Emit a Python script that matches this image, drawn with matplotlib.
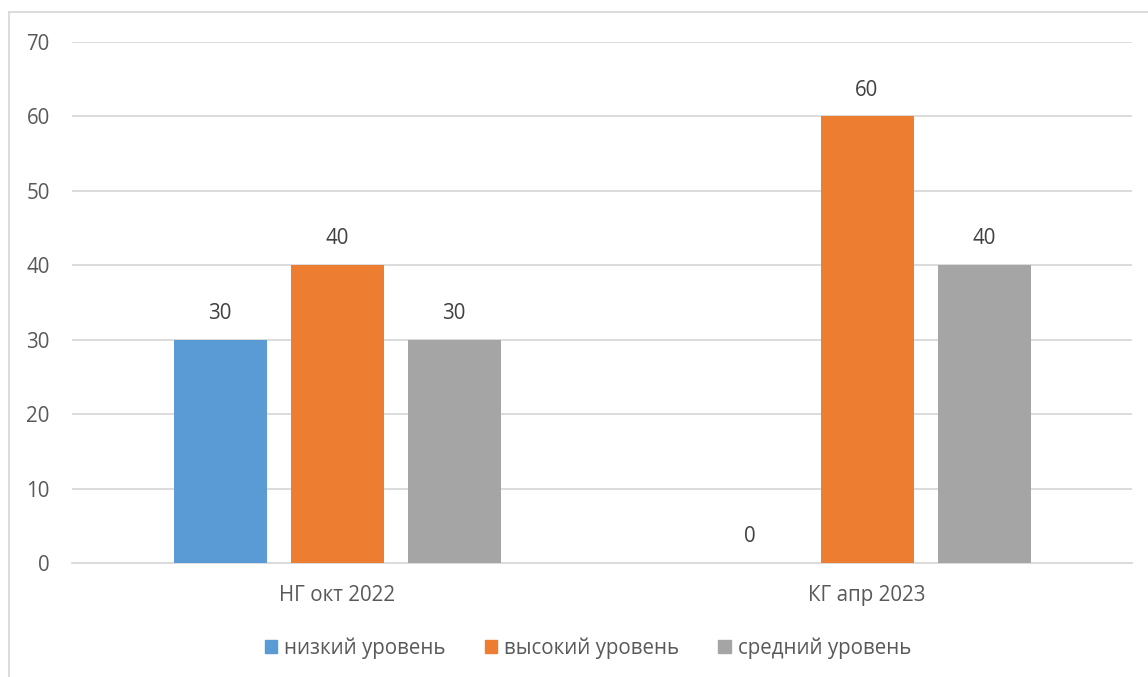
import matplotlib
matplotlib.use("Agg")
import matplotlib.pyplot as plt
from matplotlib.patches import Rectangle
from matplotlib.lines import Line2D
import numpy as np

categories = ["НГ окт 2022", "КГ апр 2023"]
series_names = ["низкий уровень", "высокий уровень", "средний уровень"]
low = [30, 0]
high = [40, 60]
mid = [30, 40]
colors = ["#5B9BD5", "#ED7D31", "#A5A5A5"]
yticks = [0, 10, 20, 30, 40, 50, 60, 70]

plt.rcParams['font.family'] = ['Open Sans', 'DejaVu Sans']
text_color = "#595959"
fs = 14.8

fig = plt.figure(figsize=(11.48, 6.77), dpi=100)
ax = fig.add_axes([72/1148, 1-563/677, (1132-72)/1148, (563-42)/677])

x = np.arange(len(categories))
width = 93/530
offset = 117/530
for i, (vals, name, c) in enumerate(zip([low, high, mid], series_names, colors)):
    pos = x + (i-1)*offset
    ax.bar(pos, vals, width, color=c, label=name, zorder=3)
    for p, v in zip(pos, vals):
        ax.annotate(f"{v}", (p, v), xytext=(0, 19), textcoords="offset points",
                    ha="center", va="center", fontsize=fs, color="#404040")

ax.set_xlim(-0.5, 1.5)
ax.set_ylim(0, 70)
ax.set_yticks(yticks)
ax.set_xticks(x)
ax.set_xticklabels(categories)
ax.yaxis.grid(True, color="#D9D9D9", linewidth=1.3, zorder=0)
ax.set_axisbelow(True)
for s in ["top", "right", "left"]:
    ax.spines[s].set_visible(False)
ax.spines["bottom"].set_color("#D9D9D9")
ax.spines["bottom"].set_linewidth(1.3)
ax.tick_params(axis="both", length=0, labelsize=fs, colors=text_color)
ax.tick_params(axis="y", pad=16)
ax.tick_params(axis="x", pad=16)

handles = [Rectangle((0, 0), 1, 1, color=c) for c in colors]
fig.legend(handles, series_names, loc="center", bbox_to_anchor=(588/1148, 1-648/677),
           ncol=3, frameon=False, fontsize=fs, labelcolor=text_color,
           handlelength=0.6, handleheight=0.6, handletextpad=0.35, columnspacing=1.9)

# chart border (top and left visible)
fig.add_artist(Line2D([9/1148, 9/1148], [0, 1-12/677], color="#D9D9D9", linewidth=1.3))
fig.add_artist(Line2D([9/1148, 1], [1-12/677, 1-12/677], color="#D9D9D9", linewidth=1.3))

fig.savefig("out.png", dpi=100)
